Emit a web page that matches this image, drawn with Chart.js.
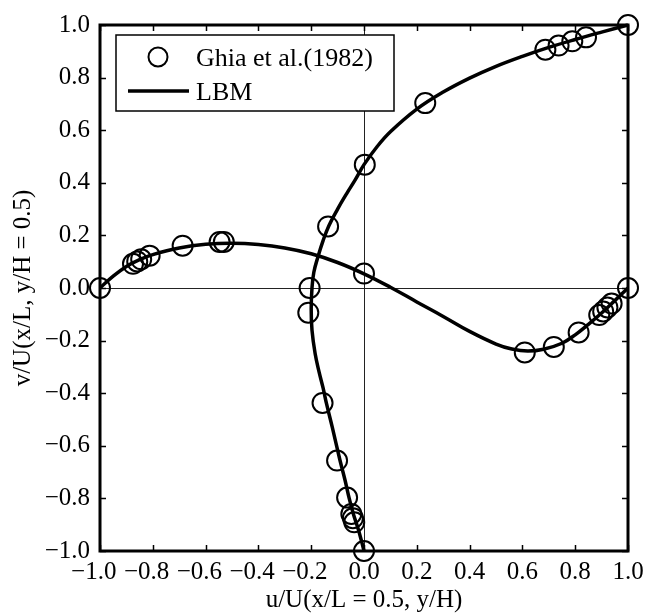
<!DOCTYPE html>
<html>
<head>
<meta charset="utf-8">
<script src="https://cdn.jsdelivr.net/npm/chart.js@4"></script>
<style>
  body { margin: 0; background: #fff; }
  #wrap { width: 650px; height: 616px; }
</style>
</head>
<body>
<div id="wrap"><canvas id="cavityChart" width="650" height="616"></canvas></div>
<script>
// Ghia et al. (1982), u along the vertical centreline (u, position)
const ghiaU = [1.0, 0.841, 0.789, 0.737, 0.687, 0.232, 0.003, -0.136, -0.206, -0.211, -0.157, -0.102, -0.064, -0.048, -0.042, -0.037, 0.0];
const ghiaUPos = [1.0, 0.953, 0.938, 0.922, 0.906, 0.703, 0.469, 0.234, 0.0, -0.094, -0.437, -0.656, -0.797, -0.859, -0.875, -0.891, -1.0];

// Ghia et al. (1982), v along the horizontal centreline (position, v)
const ghiaVPos = [1.0, 0.938, 0.922, 0.906, 0.891, 0.813, 0.719, 0.609, 0.0, -0.531, -0.547, -0.687, -0.812, -0.844, -0.859, -0.875, -1.0];
const ghiaV = [0.0, -0.059, -0.074, -0.089, -0.103, -0.169, -0.224, -0.245, 0.055, 0.175, 0.175, 0.161, 0.123, 0.109, 0.101, 0.092, 0.0];

// LBM u profile
const lbmU = [1.0, 0.9, 0.8, 0.7, 0.6, 0.5, 0.4, 0.3, 0.2, 0.1, 0.05, 0.0, -0.034, -0.065, -0.1, -0.133, -0.155, -0.174, -0.19, -0.197, -0.2, -0.197, -0.185, -0.17, -0.155, -0.142, -0.12, -0.091, -0.072, -0.056, -0.04, -0.024, -0.01, 0.0];
const lbmUPos = [1.0, 0.973, 0.945, 0.915, 0.881, 0.843, 0.798, 0.745, 0.68, 0.594, 0.538, 0.469, 0.41, 0.36, 0.3, 0.237, 0.18, 0.12, 0.06, 0.0, -0.08, -0.16, -0.25, -0.32, -0.38, -0.44, -0.53, -0.655, -0.73, -0.8, -0.86, -0.91, -0.96, -1.0];

// LBM v profile
const lbmVPos = [-1.0, -0.95, -0.9, -0.85, -0.8, -0.7, -0.6, -0.5, -0.4, -0.3, -0.2, -0.1, 0.0, 0.1, 0.2, 0.3, 0.4, 0.5, 0.56, 0.62, 0.68, 0.75, 0.8, 0.85, 0.9, 0.95, 1.0];
const lbmV = [0.0, 0.045, 0.082, 0.108, 0.127, 0.152, 0.166, 0.17, 0.165, 0.152, 0.13, 0.097, 0.054, 0.003, -0.053, -0.108, -0.165, -0.213, -0.232, -0.24, -0.233, -0.21, -0.178, -0.138, -0.095, -0.048, 0.0];

const seriesNames = ['Ghia et al.(1982)', 'LBM'];
const xTitle = 'u/U(x/L = 0.5, y/H)';
const yTitle = 'v/U(x/L, y/H = 0.5)';

const FONT = 'Liberation Serif, Times New Roman, serif';

function pairs(xs, ys) {
    return xs.map((v, i) => ({ x: v, y: ys[i] }));
}

function tickLabel(v) {
    if (Math.abs(v) < 1e-9) return '0.0';
    return v.toFixed(1).replace('-', '\u2212');
}

const framePlugin = {
    id: 'frame',
    afterDatasetsDraw(chart) {
        const { ctx, chartArea: a, scales: { x, y } } = chart;
        ctx.save();
        ctx.strokeStyle = '#000';
        ctx.lineWidth = 1.5;
        ctx.beginPath();
        x.ticks.forEach(t => {
            const px = Math.round(x.getPixelForValue(t.value)) + 0.5;
            ctx.moveTo(px, a.bottom); ctx.lineTo(px, a.bottom - 6);
            ctx.moveTo(px, a.top); ctx.lineTo(px, a.top + 6);
        });
        y.ticks.forEach(t => {
            const py = Math.round(y.getPixelForValue(t.value)) + 0.5;
            ctx.moveTo(a.left, py); ctx.lineTo(a.left + 6, py);
            ctx.moveTo(a.right, py); ctx.lineTo(a.right - 6, py);
        });
        ctx.stroke();
        ctx.lineWidth = 3;
        ctx.strokeRect(a.left, a.top, a.right - a.left, a.bottom - a.top);
        ctx.restore();
    }
};

const legendPlugin = {
    id: 'boxLegend',
    afterDraw(chart) {
        const { ctx, chartArea: a } = chart;
        const bx = a.left + 16, by = a.top + 10, bw = 278, bh = 76;
        ctx.save();
        ctx.fillStyle = '#fff';
        ctx.fillRect(bx, by, bw, bh);
        ctx.strokeStyle = '#000';
        ctx.lineWidth = 1.5;
        ctx.strokeRect(bx, by, bw, bh);

        ctx.lineWidth = 2;
        ctx.beginPath();
        ctx.arc(bx + 42, by + 22, 9.5, 0, Math.PI * 2);
        ctx.stroke();

        ctx.lineWidth = 3.5;
        ctx.beginPath();
        ctx.moveTo(bx + 12, by + 56);
        ctx.lineTo(bx + 73, by + 56);
        ctx.stroke();

        ctx.fillStyle = '#000';
        ctx.font = '26px ' + FONT;
        ctx.textBaseline = 'middle';
        ctx.textAlign = 'left';
        ctx.fillText(seriesNames[0], bx + 80, by + 24);
        ctx.fillText(seriesNames[1], bx + 80, by + 58);
        ctx.restore();
    }
};

function createCavityChart() {
    const ctx = document.getElementById('cavityChart').getContext('2d');

    const circleStyle = {
        showLine: false,
        pointStyle: 'circle',
        pointRadius: 10,
        pointBorderWidth: 2,
        pointBackgroundColor: 'rgba(0, 0, 0, 0)',
        pointBorderColor: '#000',
        clip: false
    };
    const lineStyle = {
        showLine: true,
        pointRadius: 0,
        borderColor: '#000',
        borderWidth: 3.5,
        tension: 0.4,
        fill: false,
        clip: false
    };

    new Chart(ctx, {
        type: 'scatter',
        data: {
            datasets: [
                Object.assign({ label: seriesNames[1], data: pairs(lbmU, lbmUPos) }, lineStyle),
                Object.assign({ label: seriesNames[1], data: pairs(lbmVPos, lbmV) }, lineStyle),
                Object.assign({ label: seriesNames[0], data: pairs(ghiaU, ghiaUPos) }, circleStyle),
                Object.assign({ label: seriesNames[0], data: pairs(ghiaVPos, ghiaV) }, circleStyle)
            ]
        },
        options: {
            responsive: false,
            animation: false,
            events: [],
            layout: { padding: { top: 24, right: 22, left: 0, bottom: 0 } },
            plugins: {
                legend: { display: false },
                tooltip: { enabled: false }
            },
            scales: {
                x: {
                    type: 'linear',
                    min: -1,
                    max: 1,
                    afterFit: scale => { scale.height = 65; },
                    border: { display: false },
                    grid: {
                        drawTicks: false,
                        lineWidth: 1,
                        color: c => (c.tick && Math.abs(c.tick.value) < 1e-9) ? '#222' : 'rgba(0,0,0,0)'
                    },
                    ticks: {
                        stepSize: 0.2,
                        autoSkip: false,
                        maxRotation: 0,
                        padding: 6,
                        color: '#000',
                        font: { family: FONT, size: 25 },
                        // negative labels sit a little left of their tick in the original
                        callback: v => v < -1e-9 ? tickLabel(v) + '\u2002' : tickLabel(v)
                    },
                    title: {
                        display: true,
                        text: xTitle,
                        color: '#000',
                        font: { family: FONT, size: 25 },
                        padding: { top: 0, bottom: 1 }
                    }
                },
                y: {
                    type: 'linear',
                    min: -1,
                    max: 1,
                    afterFit: scale => { scale.width = 100; },
                    border: { display: false },
                    grid: {
                        drawTicks: false,
                        lineWidth: 1,
                        color: c => (c.tick && Math.abs(c.tick.value) < 1e-9) ? '#222' : 'rgba(0,0,0,0)'
                    },
                    ticks: {
                        stepSize: 0.2,
                        autoSkip: false,
                        padding: 10,
                        color: '#000',
                        font: { family: FONT, size: 25 },
                        callback: v => tickLabel(v)
                    },
                    title: {
                        display: true,
                        text: yTitle,
                        color: '#000',
                        font: { family: FONT, size: 25 },
                        padding: { top: 8, bottom: 0 }
                    }
                }
            }
        },
        plugins: [framePlugin, legendPlugin]
    });
}

document.addEventListener('DOMContentLoaded', createCavityChart);
</script>
</body>
</html>
